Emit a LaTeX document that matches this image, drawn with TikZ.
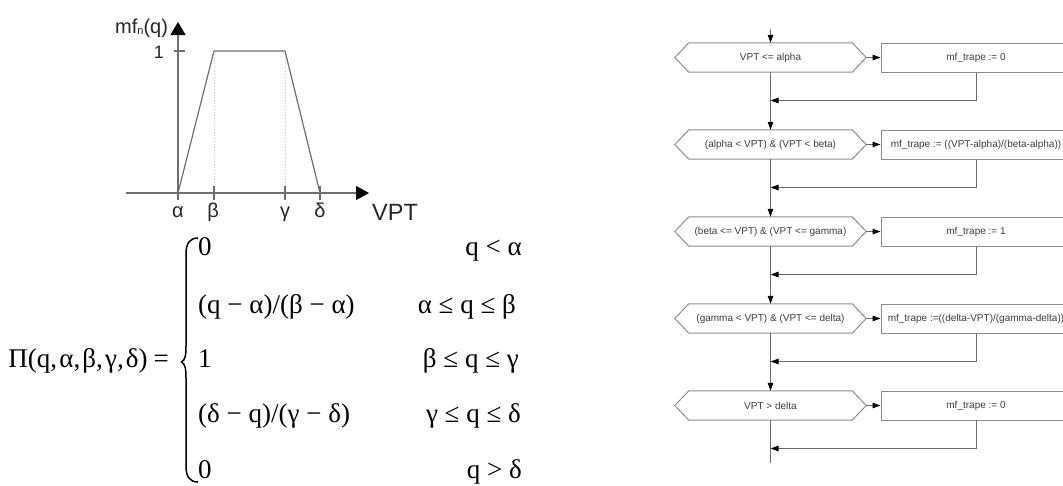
\documentclass[tikz,border=0pt]{standalone}
\usepackage{fontspec}
\setmainfont{Liberation Sans}
\newfontfamily\fxfont{Liberation Serif}
\usetikzlibrary{calc,arrows.meta}
\definecolor{glc}{HTML}{6E6E6E}
\definecolor{dotc}{HTML}{C8C8C8}
\definecolor{flc}{HTML}{6A6A6A}
\definecolor{boxc}{HTML}{8C8C8C}
\definecolor{ftxt}{HTML}{3C3C3C}
\newcommand{\hexpath}[1]{%
  \draw[hexline] ($(#1.north west)+(14,0)$) -- ($(#1.north east)+(-14,0)$) -- (#1.east)
    -- ($(#1.south east)+(-14,0)$) -- ($(#1.south west)+(14,0)$) -- (#1.west) -- cycle;}
\newcommand{\tsp}{\hspace{0.08em}}
\begin{document}
\begin{tikzpicture}[x=1pt,y=-1pt,
  gline/.style={draw=glc, line width=1.2pt},
  gdot/.style={draw=dotc, line width=0.9pt, dotted},
  bigtip/.style={-{Triangle[length=13pt,width=14pt,color=black]}},
  glab/.style={inner sep=0pt, text=black!85, font=\fontsize{20}{24}\selectfont},
  fx/.style={inner sep=0pt, text=black, font=\fxfont\fontsize{27}{32}\selectfont},
  cond/.style={minimum width=191pt, minimum height=29pt, inner sep=0pt, text=ftxt, font=\fontsize{10}{12}\selectfont},
  act/.style={draw=boxc, line width=1pt, minimum width=190pt, minimum height=29pt, inner sep=0pt, text=ftxt, font=\fontsize{10}{12}\selectfont},
  hexline/.style={draw=boxc, line width=1pt},
  flow/.style={draw=flc, line width=1pt, -{Triangle[length=8pt,width=5.5pt,color=black]}},
  plain/.style={draw=flc, line width=1pt}]
\useasboundingbox (0,0) rectangle (1063,485);
\clip (0,0) rectangle (1063,485);
% ---------------- graph ----------------
\coordinate (xs) at (126,193);
\coordinate (xe) at (369,193);
\coordinate (ys) at (178,200);
\coordinate (ye) at (178,22);
\coordinate (pa) at (178,193);
\coordinate (pb) at (214,51);
\coordinate (pc) at (285,51);
\coordinate (pd) at (320,193);
\draw[gdot] (pb) -- (214,186);
\draw[gdot] (pc) -- (285,186);
\draw[gline, bigtip] (xs) -- (xe);
\draw[gline, -{Triangle[length=13pt,width=15pt,color=black]}] (ys) -- (ye);
\draw[gline] (174,51) -- (185,51);
\draw[gline] (214,186) -- (214,200);
\draw[gline] (285,186) -- (285,200);
\draw[gline] (320,186) -- (320,200);
\draw[gline, line join=round] (pa) -- (pb) -- (pc) -- (pd);
\node[glab, anchor=base west] (ylab) at (115,33) {mf\raisebox{-1pt}{\fontsize{11}{11}\selectfont n}(q)};
\node[glab, anchor=east, font=\fontsize{18}{20}\selectfont] (one) at (164,52) {1};
\node[glab, anchor=base] (la) at (178,217) {α};
\node[glab, anchor=base] (lb) at (213,217) {β};
\node[glab, anchor=base] (lg) at (285,217) {γ};
\node[glab, anchor=base] (ld) at (320,217) {δ};
\node[glab, anchor=base west, font=\fontsize{23.5}{26}\selectfont] (vpt) at (372,220) {VPT};
% ---------------- formula ----------------
\node[fx, anchor=base east] (lhs) at (169,367) {Π(q,\tsp α,\tsp β,\tsp γ,\tsp δ)\hspace{0.22em}=};
\draw[line width=1.5pt, black] (198,238) .. controls (190,238) and (186,243) .. (186,254)
  -- (186,346) .. controls (186,356) and (185,360) .. (181.5,362)
  .. controls (185,364) and (186,368) .. (186,378)
  -- (186,466) .. controls (186,477) and (190,482) .. (198,482);
\node[fx, anchor=base west] (e1) at (198,255) {0};
\node[fx, anchor=base west] (e2) at (198,313) {(q − α)/(β − α)};
\node[fx, anchor=base west] (e3) at (198,367) {1};
\node[fx, anchor=base west] (e4) at (198,422) {(δ − q)/(γ − δ)};
\node[fx, anchor=base west] (e5) at (198,478) {0};
\node[fx, anchor=base east] (k1) at (522,255) {q < α};
\node[fx, anchor=base east] (k2) at (516,313) {α ≤ q ≤ β};
\node[fx, anchor=base east] (k3) at (519,367) {β ≤ q ≤ γ};
\node[fx, anchor=base east] (k4) at (521,422) {γ ≤ q ≤ δ};
\node[fx, anchor=base east] (k5) at (522,478) {q > δ};
% ---------------- flowchart ----------------
\node[cond] (c1) at (770.5,57.5) {VPT <= alpha};
\node[cond] (c2) at (770.5,144.5) {(alpha < VPT) \& (VPT < beta)};
\node[cond] (c3) at (770.5,231.5) {(beta <= VPT) \& (VPT <= gamma)};
\node[cond] (c4) at (770.5,318.5) {(gamma < VPT) \& (VPT <= delta)};
\node[cond] (c5) at (770.5,405.5) {VPT > delta};
\hexpath{c1}\hexpath{c2}\hexpath{c3}\hexpath{c4}\hexpath{c5}
\node[act] (a1) at (976,57.5) {mf\_trape := 0};
\node[act] (a2) at (976,144.5) {mf\_trape := ((VPT-alpha)/(beta-alpha))};
\node[act] (a3) at (976,231.5) {mf\_trape := 1};
\node[act] (a4) at (976,318.5) {mf\_trape :=((delta-VPT)/(gamma-delta))};
\node[act] (a5) at (976,405.5) {mf\_trape := 0};
\coordinate (start) at (770.5,29);
\coordinate (m1) at (770.5,100.5);
\coordinate (m2) at (770.5,187.5);
\coordinate (m3) at (770.5,274.5);
\coordinate (m4) at (770.5,361.5);
\coordinate (m5) at (770.5,448.5);
\coordinate (fin) at (770.5,463);
\draw[flow] (start) -- (c1.north);
\foreach \i in {1,...,5}{
  \draw[flow] (c\i.east) -- (a\i.west);
  \draw[flow] (a\i.south) |- (m\i);
}
\draw[flow] (c1.south) -- (c2.north);
\draw[flow] (c2.south) -- (c3.north);
\draw[flow] (c3.south) -- (c4.north);
\draw[flow] (c4.south) -- (c5.north);
\draw[plain] (c5.south) -- (fin);
\end{tikzpicture}
\end{document}
